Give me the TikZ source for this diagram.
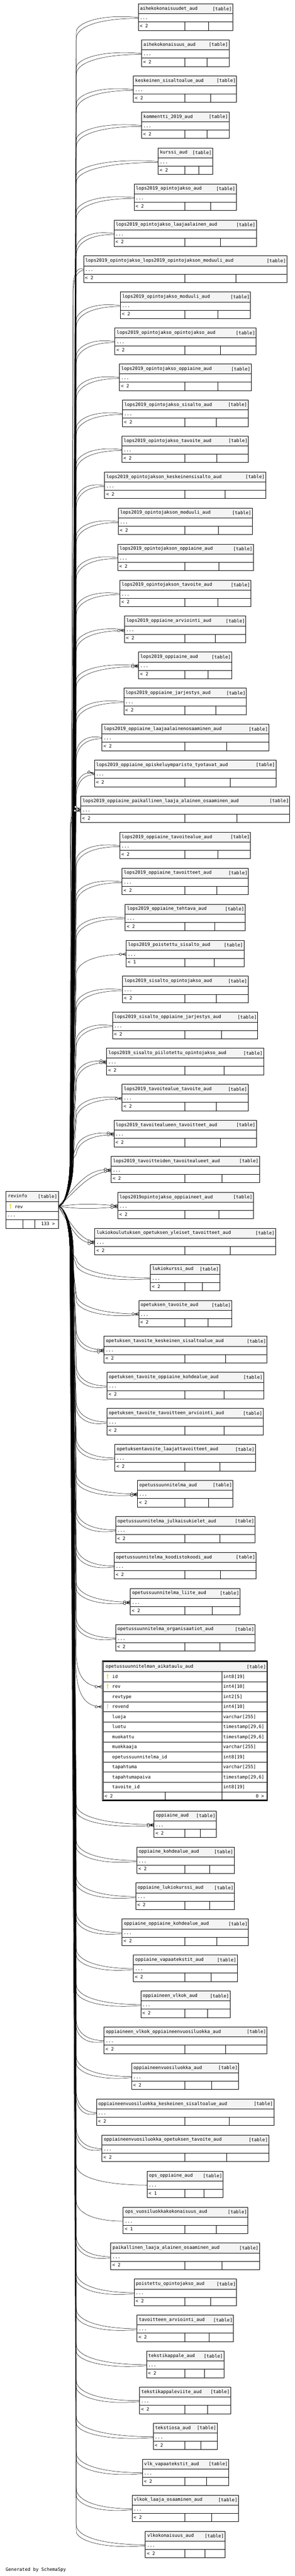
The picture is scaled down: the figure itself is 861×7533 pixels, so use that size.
\documentclass[tikz,border=0pt]{standalone}
\usepackage{fontspec}
\newfontfamily\dvmono{DejaVu Sans Mono}
\usetikzlibrary{decorations.markings}
\definecolor{hdr}{HTML}{F4F4F4}
\definecolor{keyy}{HTML}{D4D000}
\definecolor{keyg}{HTML}{BBBBBB}
\newcommand\crowmark{%
  \draw[line width=0.8pt] (-11,0) -- (0,0) (-11,0) -- (0,4.3) (-11,0) -- (0,-4.3) (-13,0) -- (-11,0);
  \draw[line width=0.8pt,fill=white] (-16.5,0) circle (3.5);
}
\newcommand\keyic[3]{%
  \fill[#3] (#1,#2+2.6) ellipse [x radius=2.4, y radius=2.7];
  \fill[#3] (#1-0.75,#2+4) rectangle (#1+0.75,#2+14);
  \fill[white] (#1,#2+2.4) circle (0.9);
}
\tikzset{
  tline/.style={line width=0.9pt},
  conn/.style={line width=0.75pt, postaction={decorate}, decoration={markings, mark=at position 1 with {\crowmark}}},
  lbl/.style={font=\dvmono\fontsize{13.3}{16}\selectfont, inner sep=0pt, anchor=base west},
  lblr/.style={lbl, anchor=base east},
}
\def\tablelist{1/aihekokonaisuudet\_aud/735/1237/2,
2/aihekokonaisuus\_aud/753/1217/2,
3/keskeinen\_sisaltoalue\_aud/709/1258/2,
4/kommentti\_2019\_aud/753/1217/2,
5/kurssi\_aud/841/1130/2,
6/lops2019\_opintojakso\_aud/713/1256/2,
7/lops2019\_opintojakso\_laajaalainen\_aud/606/1363/2,
8/lops2019\_opintojakso\_lops2019\_opintojakson\_moduuli\_aud/444/1525/2,
9/lops2019\_opintojakso\_moduuli\_aud/640/1332/2,
10/lops2019\_opintojakso\_opintojakso\_aud/611/1361/2,
11/lops2019\_opintojakso\_oppiaine\_aud/635/1336/2,
12/lops2019\_opintojakso\_sisalto\_aud/651/1319/2,
13/lops2019\_opintojakso\_tavoite\_aud/648/1321/2,
14/lops2019\_opintojakson\_keskeinensisalto\_aud/556/1412/2,
15/lops2019\_opintojakson\_moduuli\_aud/629/1341/2,
16/lops2019\_opintojakson\_oppiaine\_aud/626/1347/2,
17/lops2019\_opintojakson\_tavoite\_aud/637/1334/2,
18/lops2019\_oppiaine\_arviointi\_aud/662/1307/2,
19/lops2019\_oppiaine\_aud/737/1232/2,
20/lops2019\_oppiaine\_jarjestys\_aud/658/1310/2,
21/lops2019\_oppiaine\_laajaalainenosaaminen\_aud/542/1429/2,
22/lops2019\_oppiaine\_opiskeluymparisto\_tyotavat\_aud/502/1467/2,
23/lops2019\_oppiaine\_paikallinen\_laaja\_alainen\_osaaminen\_aud/429/1540/2,
24/lops2019\_oppiaine\_tavoitealue\_aud/637/1332/2,
25/lops2019\_oppiaine\_tavoitteet\_aud/649/1321/2,
26/lops2019\_oppiaine\_tehtava\_aud/666/1303/2,
27/lops2019\_poistettu\_sisalto\_aud/671/1297/1,
28/lops2019\_sisalto\_opintojakso\_aud/651/1319/2,
29/lops2019\_sisalto\_oppiaine\_jarjestys\_aud/598/1370/2,
30/lops2019\_sisalto\_piilotettu\_opintojakso\_aud/567/1401/2,
31/lops2019\_tavoitealue\_tavoite\_aud/649/1319/2,
32/lops2019\_tavoitealueen\_tavoitteet\_aud/606/1363/2,
33/lops2019\_tavoitteiden\_tavoitealueet\_aud/591/1379/2,
34/lops2019opintojakso\_oppiaineet\_aud/626/1347/2,
35/lukiokoulutuksen\_opetuksen\_yleiset\_tavoitteet\_aud/504/1465/2,
36/lukiokurssi\_aud/800/1168/2,
37/opetuksen\_tavoite\_aud/738/1232/2,
38/opetuksen\_tavoite\_keskeinen\_sisaltoalue\_aud/553/1419/2,
39/opetuksen\_tavoite\_oppiaine\_kohdealue\_aud/569/1401/2,
40/opetuksen\_tavoite\_tavoitteen\_arviointi\_aud/569/1399/2,
41/opetuksentavoite\_laajattavoitteet\_aud/611/1358/2,
42/opetussuunnitelma\_aud/731/1238/2,
43/opetussuunnitelma\_julkaisukielet\_aud/615/1356/2,
44/opetussuunnitelma\_koodistokoodi\_aud/607/1361/2,
45/opetussuunnitelma\_liite\_aud/693/1276/2,
46/opetussuunnitelma\_organisaatiot\_aud/615/1356/2,
48/oppiaine\_aud/819/1150/2,
49/oppiaine\_kohdealue\_aud/728/1245/2,
50/oppiaine\_lukiokurssi\_aud/722/1246/2,
51/oppiaine\_oppiaine\_kohdealue\_aud/649/1321/2,
52/oppiaine\_vapaatekstit\_aud/709/1261/2,
53/oppiaineen\_vlkok\_aud/749/1223/2,
54/oppiaineen\_vlkok\_oppiaineenvuosiluokka\_aud/553/1419/2,
55/oppiaineenvuosiluokka\_aud/700/1268/2,
56/oppiaineenvuosiluokka\_keskeinen\_sisaltoalue\_aud/513/1456/2,
57/oppiaineenvuosiluokka\_opetuksen\_tavoite\_aud/542/1429/2,
58/ops\_oppiaine\_aud/782/1186/1,
59/ops\_vuosiluokkakokonaisuus\_aud/655/1318/1,
60/paikallinen\_laaja\_alainen\_osaaminen\_aud/589/1379/2,
61/poistettu\_opintojakso\_aud/713/1258/2,
62/tavoitteen\_arviointi\_aud/729/1241/2,
63/tekstikappale\_aud/779/1190/2,
64/tekstikappaleviite\_aud/742/1226/2,
65/tekstiosa\_aud/815/1154/2,
66/vlk\_vapaatekstit\_aud/757/1216/2,
67/vlkok\_laaja\_osaaminen\_aud/702/1267/2,
68/vlkokonaisuus\_aud/773/1195/2}
\begin{document}
\begin{tikzpicture}[x=1pt,y=-1pt]
\fill[white] (0,0) rectangle (861,7533);
\useasboundingbox (0,0) rectangle (861,7533);
\coordinate (src) at (170.2,3527.7);
% ---------- connectors
\foreach \i/\nm/\ld/\rd/\cnt in \tablelist {
  \pgfmathsetmacro\Lx{\ld*0.5491}
  \pgfmathsetmacro\Ty{(\i<48) ? (11.2+(\i-1)*105.31) : (5295.5+(\i-48)*105.31)}
  \pgfmathsetmacro\yr{\Ty+41.2}
  \pgfmathtruncatemacro\cm{\cnt-1}
  \pgfmathsetmacro\xs{min(223,\Lx-30)}
  \foreach \kk in {0,...,\cm}{
    \pgfmathsetmacro\yT{\yr+(\cnt-1)*(2*\kk-1)*1.4}
    \coordinate (e\i-\kk) at (\Lx,\yT);
    \pgfmathsetmacro\sg{(\yT>3527.7) ? 1 : -1}
    \pgfmathtruncatemacro\far{(\cnt-1)*((\sg<0) ? (1-\kk) : \kk)}
    \pgfmathsetmacro\Dd{56-16*\far}
    \pgfmathsetmacro\ov{11*\far}
    \pgfmathtruncatemacro\isdir{(abs(\yT-3527.7)<200) ? 1 : 0}
    \ifnum\isdir=1
      \pgfmathsetmacro\bb{(\cnt-1)*(2*\kk-1)*7}
      \pgfmathsetmacro\dxx{\Lx-170.2}
      \pgfmathsetmacro\cax{170.2+0.35*\dxx}
      \pgfmathsetmacro\cay{3527.7+0.5*(\yT-3527.7)+(\bb)}
      \pgfmathsetmacro\cbx{170.2+0.55*\dxx}
      \pgfmathsetmacro\cby{\yT+(\bb)}
      \draw[conn] (src) .. controls (\cax,\cay) and (\cbx,\cby) .. (e\i-\kk);
    \else
      \pgfmathsetmacro\xa{204+4*\kk+mod(\i,4)*2}
      \pgfmathsetmacro\yaa{3527.7+(\sg)*60}
      \pgfmathsetmacro\ybb{3527.7+(\sg)*130}
      \pgfmathsetmacro\ys{\yT-(\sg)*\Dd}
      \pgfmathsetmacro\cay{\yT-(\sg)*0.45*\Dd}
      \pgfmathsetmacro\cbx{\xs+0.35*(\Lx-\xs)}
      \pgfmathsetmacro\cby{\yT+(\sg)*\ov}
      \draw[conn] (src) .. controls (188,3527.7) and (\xa,\yaa) .. (\xa,\ybb) -- (\xs,\ys) .. controls (\xs+3,\cay) and (\cbx,\cby) .. (e\i-\kk);
    \fi
  }
}
\coordinate (bt-rev) at (297.6,4932.5);
\coordinate (bt-revend) at (297.6,4991);
\draw[conn] (src) .. controls (188,3527.7) and (206,3587.7) .. (206,3657.7) -- (223,4842.5) .. controls (226,4905) and (250,4932.5) .. (bt-rev);
\draw[conn] (src) .. controls (188,3527.7) and (210,3587.7) .. (210,3657.7) -- (221,4866) .. controls (224,4960) and (250,4991) .. (bt-revend);
% ---------- small tables
\foreach \i/\nm/\ld/\rd/\cnt in \tablelist {
  \pgfmathsetmacro\Lx{\ld*0.5491}
  \pgfmathsetmacro\Rx{\rd*0.5491}
  \pgfmathsetmacro\Wd{\Rx-\Lx}
  \pgfmathsetmacro\Ty{(\i<48) ? (11.2+(\i-1)*105.31) : (5295.5+(\i-48)*105.31)}
  \pgfmathsetmacro\Dv{(539.8+\Rx)/2}
  \node[fill=white, inner sep=0pt, minimum width=\Wd pt, minimum height=77.2pt, anchor=north west] (t\i) at (\Lx,\Ty) {};
  \fill[hdr] (\Lx,\Ty) rectangle (\Rx,\Ty+29);
  \draw[tline] (\Lx,\Ty+29) -- (\Rx,\Ty+29) (\Lx,\Ty+53.1) -- (\Rx,\Ty+53.1) (539.8,\Ty+53.1) -- (539.8,\Ty+77.2) (\Dv,\Ty+53.1) -- (\Dv,\Ty+77.2);
  \draw[tline] (t\i.north west) rectangle (t\i.south east);
  \node[lbl] (n\i) at (\Lx+5.5,\Ty+18) {\nm};
  \node[lblr] (k\i) at (\Rx-2,\Ty+19) {[table]};
  \node[lbl] (d\i) at (\Lx+4.5,\Ty+45.5) {...};
  \node[lbl] (f\i) at (\Lx+4.5,\Ty+69.5) {< \cnt};
}
% ---------- big table
\node[inner sep=0pt, minimum width=482.2pt, minimum height=408.3pt, anchor=north west, fill=white] (bigt) at (298.6,4857) {};
\draw[line width=2pt] (bigt.north west) rectangle (bigt.south east);
\fill[hdr] (301.5,4859.5) rectangle (779,4888);
\foreach \r in {0,...,12} \draw[tline] (301.5,4888+29.375*\r) -- (779,4888+29.375*\r);
\draw[tline] (648.5,4888) -- (648.5,5262.5) (483.2,5240.5) -- (483.2,5262.5);
\draw[tline] (301.5,4859.5) rectangle (779,5262.5);
\node[lbl] (bign) at (308.6,4877.5) {opetussuunnitelman\_aikataulu\_aud};
\node[lblr] (bigk) at (777,4878.5) {[table]};
\foreach \r/\cn/\ct in {0/id/int8[19], 1/rev/int4[10], 2/revtype/int2[5], 3/revend/int4[10], 4/luoja/varchar[255], 5/luotu/{timestamp[29,6]}, 6/muokattu/{timestamp[29,6]}, 7/muokkaaja/varchar[255], 8/opetussuunnitelma\_id/int8[19], 9/tapahtuma/varchar[255], 10/tapahtumapaiva/{timestamp[29,6]}, 11/tavoite\_id/int8[19]}{
  \node[lbl] (bc\r) at (327.8,4888+29.375*\r+19.4) {\cn};
  \node[lbl] (bty\r) at (651.8,4888+29.375*\r+19.4) {\ct};
}
\keyic{314.6}{4895.3}{keyy}
\keyic{314.6}{4924.7}{keyy}
\keyic{314.6}{4983.4}{keyg}
\node[lbl] (bigf) at (305.3,5257.5) {< 2};
\node[lblr] (bigr) at (771.5,5257.5) {0 >};
% ---------- revinfo
\node[fill=white, inner sep=0pt, minimum width=152.6pt, minimum height=106.9pt, anchor=north west] (revinfo) at (17.6,3484.3) {};
\fill[hdr] (17.6,3484.3) rectangle (170.2,3513.6);
\draw[tline] (17.6,3513.6) -- (170.2,3513.6) (17.6,3543) -- (170.2,3543) (17.6,3567) -- (170.2,3567) (66.4,3567) -- (66.4,3591.2) (101.6,3567) -- (101.6,3591.2);
\draw[tline] (revinfo.north west) rectangle (revinfo.south east);
\node[lbl] (rvn) at (23.1,3502.5) {revinfo};
\node[lblr] (rvk) at (167.2,3503.5) {[table]};
\keyic{30.2}{3520.5}{keyy}
\node[lbl] (rvr) at (42.8,3533.7) {rev};
\node[lbl] (rvd) at (21.5,3558.5) {...};
\node[lblr] (rvc) at (160.5,3583) {133 >};
\node[lbl] (gen) at (16.5,7518) {Generated by SchemaSpy};
\end{tikzpicture}
\end{document}
